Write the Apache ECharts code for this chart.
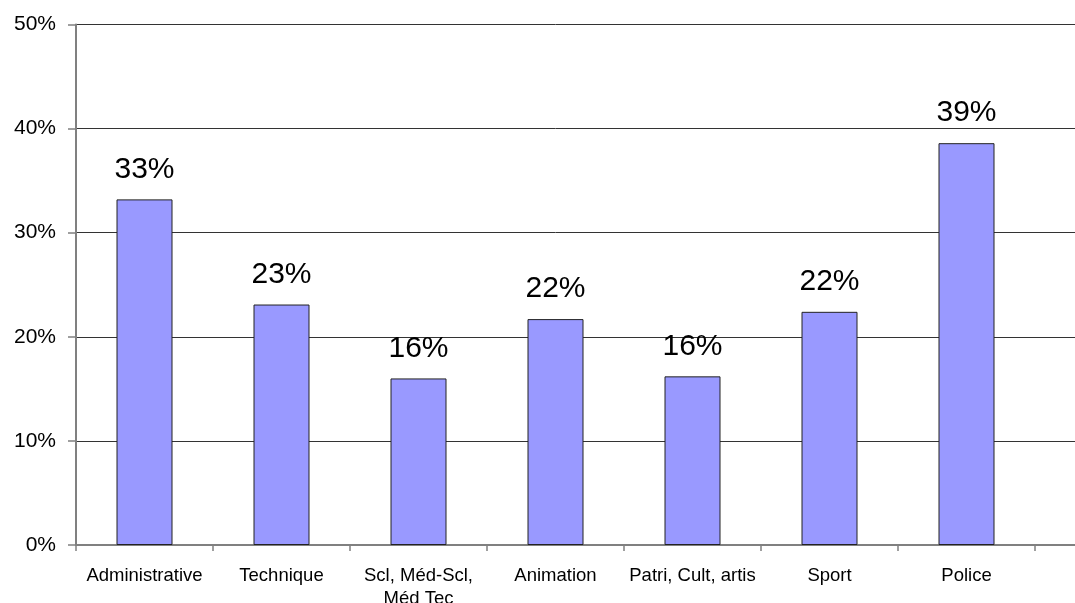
<!DOCTYPE html>
<html>
<head>
<meta charset="utf-8">
<script src="https://cdn.jsdelivr.net/npm/echarts@6/dist/echarts.min.js"></script>
<style>
html,body{margin:0;padding:0;background:#fff;}
#chart{width:1075px;height:603px;}
</style>
</head>
<body>
<div id="chart"></div>
<script>
const categories = ['Administrative', 'Technique', 'Scl, Méd-Scl,\nMéd Tec', 'Animation', 'Patri, Cult, artis', 'Sport', 'Police'];
const values = [33.2, 23.1, 16.0, 21.7, 16.2, 22.4, 38.6];
const yTicks = { min: 0, max: 50, interval: 10 };

const FONT = "'Liberation Sans', Arial, sans-serif";
const chart = echarts.init(document.getElementById('chart'), null, { renderer: 'canvas' });
chart.setOption({
  animation: false,
  backgroundColor: '#ffffff',
  textStyle: { fontFamily: FONT },
  grid: [
    { left: 76, right: 40, top: 24.5, bottom: 58, containLabel: false, outerBoundsMode: 'none' },
    { left: 1035, right: -5, top: 24.5, bottom: 58, containLabel: false, outerBoundsMode: 'none' }
  ],
  xAxis: [
    {
      type: 'category',
      gridIndex: 0,
      data: categories,
      boundaryGap: true,
      axisLine: { show: true, lineStyle: { color: '#808080', width: 2 } },
      axisTick: { show: true, length: 6, lineStyle: { color: '#808080', width: 1.5 } },
      axisLabel: { color: '#000', fontSize: 18.5, fontFamily: FONT, margin: 19, lineHeight: 23, interval: 0 },
      splitLine: { show: false }
    },
    {
      type: 'category',
      gridIndex: 1,
      data: [''],
      axisLine: { show: true, lineStyle: { color: '#808080', width: 2 } },
      axisTick: { show: false },
      axisLabel: { show: false },
      splitLine: { show: false }
    }
  ],
  yAxis: [
    {
      type: 'value',
      gridIndex: 0,
      min: yTicks.min,
      max: yTicks.max,
      interval: yTicks.interval,
      axisLine: { show: true, lineStyle: { color: '#808080', width: 2 } },
      axisTick: { show: true, length: 8, lineStyle: { color: '#808080', width: 1.5 } },
      axisLabel: { color: '#000', fontSize: 21, fontFamily: FONT, margin: 20, formatter: '{value}%' },
      splitLine: { show: true, lineStyle: { color: '#333', width: 1 } }
    },
    {
      type: 'value',
      gridIndex: 1,
      min: yTicks.min,
      max: yTicks.max,
      interval: yTicks.interval,
      axisLine: { show: false },
      axisTick: { show: false },
      axisLabel: { show: false },
      splitLine: { show: true, lineStyle: { color: '#333', width: 1 } }
    }
  ],
  series: [{
    type: 'bar',
    xAxisIndex: 0,
    yAxisIndex: 0,
    data: values,
    barWidth: 56,
    itemStyle: { color: '#9999FF', borderColor: '#222', borderWidth: 1 },
    label: {
      show: true,
      position: 'top',
      distance: 15,
      color: '#000',
      fontSize: 30,
      fontFamily: FONT,
      formatter: p => Math.round(p.value) + '%'
    }
  }]
});
</script>
</body>
</html>
